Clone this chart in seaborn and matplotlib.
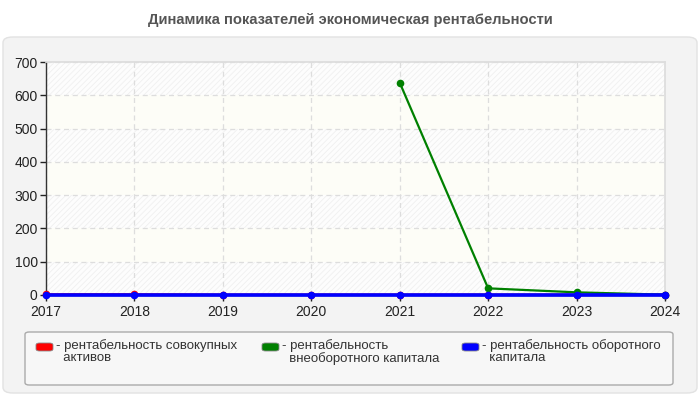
import numpy as np
import pandas as pd
import seaborn as sns
import matplotlib.pyplot as plt
from matplotlib.patches import FancyBboxPatch, Rectangle

years = [2017, 2018, 2019, 2020, 2021, 2022, 2023, 2024]
total_assets = [2, 2, 1, 1, 1, 1, 1, 1]
noncurrent_capital = [np.nan, np.nan, np.nan, np.nan, 638, 20, 8, 1]
current_capital = [0.5, 0.5, 0.5, 0.5, 0.5, 0.5, 0.5, 0.5]

names = ['рентабельность совокупных\nактивов',
         'рентабельность\nвнеоборотного капитала',
         'рентабельность оборотного\nкапитала']
colors = ['#ff0000', '#008000', '#0000ff']

df = pd.DataFrame({'year': years * 3,
                   'value': total_assets + noncurrent_capital + current_capital,
                   'series': [names[0]] * 8 + [names[1]] * 8 + [names[2]] * 8})

sns.set_theme(style='white')
plt.rcParams['font.family'] = ['Liberation Sans', 'DejaVu Sans']
plt.rcParams['hatch.linewidth'] = 0.6

W, H = 700, 400
fig = plt.figure(figsize=(7, 4), dpi=100)
fig.patch.set_facecolor('white')


def px_box(x0, y0, x1, y1, **kw):
    # box given in pixel coords from the top-left corner
    return FancyBboxPatch((x0 / W, 1 - y1 / H), (x1 - x0) / W, (y1 - y0) / H,
                          transform=fig.transFigure, **kw)


# outer grey panel
fig.patches.append(px_box(3, 37, 697, 393, boxstyle='round,pad=0,rounding_size=0.014',
                          facecolor='#f3f3f3', edgecolor='#e2e2e2', linewidth=1, zorder=-5))

fig.text(0.5, 1 - 20 / H, 'Динамика показателей экономическая рентабельности',
         ha='center', va='center', fontsize=10.6, fontweight='bold', color='#555555')

ax = fig.add_axes([46 / W, 105 / H, 619 / W, 233 / H])
ax.set_facecolor('white')

# alternating bands
for lo in range(0, 700, 100):
    if (lo // 100) % 2 == 0:
        ax.add_patch(Rectangle((2017, lo), 7, 100, facecolor='#fdfdfd', edgecolor='#f0f0f0',
                               hatch='//////', linewidth=0, zorder=0))
    else:
        ax.add_patch(Rectangle((2017, lo), 7, 100, facecolor='#fdfdf7', edgecolor='none',
                               linewidth=0, zorder=0))

sns.lineplot(data=df, x='year', y='value', hue='series', palette=colors,
             marker='o', markersize=5.5, markeredgewidth=0, linewidth=1.6,
             legend=False, ax=ax, zorder=3, clip_on=False)
# the blue series is drawn a bit heavier
ax.lines[2].set_linewidth(2.6)

ax.set_xlim(2017, 2024)
ax.set_ylim(0, 700)
ax.set_xticks(years)
ax.set_yticks(range(0, 701, 100))
ax.set_xlabel('')
ax.set_ylabel('')
ax.grid(True, color='#dddddd', linestyle=(0, (4, 3)), linewidth=0.9)
ax.set_axisbelow(True)
for s in ['top', 'right']:
    ax.spines[s].set_color('#dddddd')
for s in ['left', 'bottom']:
    ax.spines[s].set_color('#333333')
    ax.spines[s].set_linewidth(1)
ax.tick_params(axis='both', labelsize=10, colors='#222222', length=4, width=1,
               direction='out', pad=2, left=True, bottom=True)
ax.tick_params(axis='x', pad=3)

# legend box drawn by hand
fig.patches.append(px_box(25, 332, 673, 385, boxstyle='round,pad=0,rounding_size=0.006',
                          facecolor='#f7f7f7', edgecolor='#aaaaaa', linewidth=1, zorder=1))
handle_x = [36, 262, 462]
for hx, c, n in zip(handle_x, colors, names):
    fig.patches.append(px_box(hx, 343, hx + 17, 351, boxstyle='round,pad=0,rounding_size=0.005',
                              facecolor=c, edgecolor='#888888', linewidth=0.6, zorder=2))
    fig.text((hx + 20) / W, 1 - 339 / H, '- ' + n.replace('\n', '\n  '), ha='left', va='top',
             fontsize=9.5, color='#333333', linespacing=1.05, zorder=3)

fig.savefig('out.png', dpi=100)
